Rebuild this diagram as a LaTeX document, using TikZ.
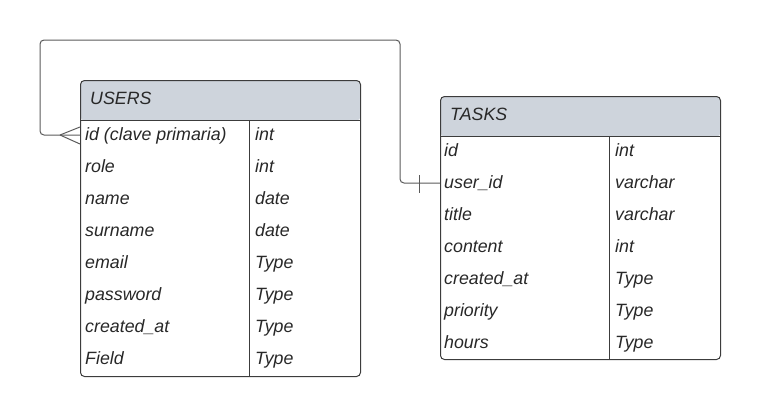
\documentclass[tikz,border=0pt]{standalone}
\usepackage{fontspec}
\setmainfont{Liberation Sans}
\definecolor{hdr}{RGB}{206,212,220}
\definecolor{linec}{RGB}{60,60,60}
\definecolor{connc}{RGB}{90,90,90}
\definecolor{txt}{RGB}{40,40,40}
\begin{document}
\begin{tikzpicture}[x=1pt,y=-1pt,
  tablebox/.style={draw=linec, line width=1pt, rounded corners=4pt, anchor=north west, inner sep=0pt, fill=white,
    path picture={\fill[hdr] (path picture bounding box.north west) rectangle ([yshift=-40pt]path picture bounding box.north east);}},
  cell/.style={anchor=base west, inner sep=0pt, text=txt, font=\fontsize{17.8}{20}\selectfont\itshape},
  sepline/.style={draw=linec, line width=1pt},
  conn/.style={draw=connc, line width=1pt}]
\useasboundingbox (0,0) rectangle (761,416);

% USERS table
\node[tablebox, minimum width=280pt, minimum height=296pt] (users) at (80,80) {};
\draw[sepline] (80,120) -- (360,120);
\draw[sepline] (249,120) -- (249,376);
\node[cell] (uhead) at (90,104.5) {USERS};
\foreach \n/\t [count=\i from 0] in {id (clave primaria)/int, role/int, name/date, surname/date, email/Type, password/Type, created\_at/Type, Field/Type}{
  \node[cell] (un\i) at (85,{140.5+32*\i}) {\n};
  \node[cell] (ut\i) at (255,{140.5+32*\i}) {\t};
}

% TASKS table
\node[tablebox, minimum width=280pt, minimum height=263pt] (tasks) at (440,96) {};
\draw[sepline] (440,136) -- (720,136);
\draw[sepline] (609,136) -- (609,359);
\node[cell] (thead) at (450,120.5) {TASKS};
\foreach \n/\t [count=\i from 0] in {id/int, user\_id/varchar, title/varchar, content/int, created\_at/Type, priority/Type, hours/Type}{
  \node[cell] (tn\i) at (444,{156.5+32*\i}) {\n};
  \node[cell] (tt\i) at (615,{156.5+32*\i}) {\t};
}

% relationship
\coordinate (uid) at (80,135);
\coordinate (foot) at (60,135);
\coordinate (tuid) at (440,183);
\draw[conn, rounded corners=4pt] (uid) -- (40,135) -- (40,40) -- (400,40) -- (400,183) -- (tuid);
\draw[conn] (foot) -- (80,127);
\draw[conn] (foot) -- (80,144);
\draw[conn] (419,175) -- (419,193);
\end{tikzpicture}
\end{document}
